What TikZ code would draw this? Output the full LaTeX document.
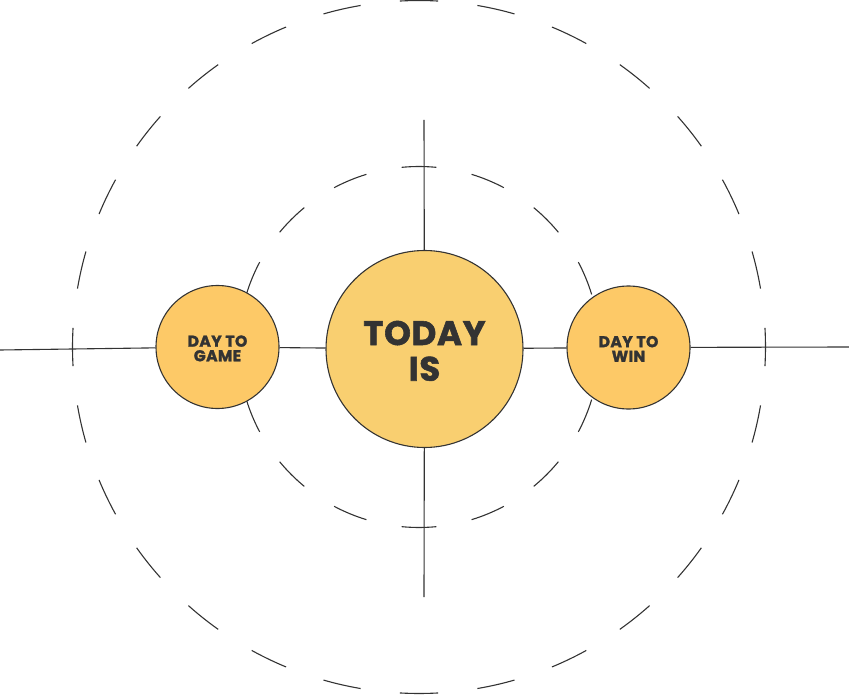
\documentclass[tikz,border=0pt]{standalone}
\usepackage{fontspec}
\newfontfamily\dfont{Poppins}[BoldFeatures={FakeBold=1.6}, LetterSpace=2]
\definecolor{ink}{HTML}{333333}
\definecolor{bigfill}{HTML}{F9CF70}
\definecolor{smallfill}{HTML}{FDC967}
\tikzset{
  dashline/.style={draw=ink, line width=1.1pt},
  conn/.style={draw=ink, line width=1.1pt},
  bigball/.style={circle, draw=ink, line width=1.1pt, fill=bigfill, minimum size=197pt, inner sep=0pt, align=center, text=ink, font=\dfont\bfseries\fontsize{34}{35.7}\selectfont},
  smallball/.style={circle, draw=ink, line width=1.1pt, fill=smallfill, minimum size=123pt, inner sep=0pt, align=center, text=ink, font=\dfont\bfseries\fontsize{15.7}{14.6}\selectfont},
}
\begin{document}
\begin{tikzpicture}[x=1pt, y=-1pt]
\useasboundingbox (0,0) rectangle (849,695);
\coordinate (oc) at (419,347);
% outer dashed circle: 28 dashes
\foreach \i in {0,...,27} {
  \pgfmathsetmacro{\a}{\i*360/28-3.15}
  \draw[dashline] (oc) ++(\a:346.5) arc[start angle=\a, delta angle=6.3, radius=346.5];
}
% inner dashed circle: 16 dashes
\foreach \i in {0,...,15} {
  \pgfmathsetmacro{\a}{\i*360/16-5.55}
  \draw[dashline] (oc) ++(\a:180.5) arc[start angle=\a, delta angle=11.1, radius=180.5];
}
\coordinate (L) at (0,350);
\coordinate (R) at (849,347);
\coordinate (T) at (424,120);
\coordinate (B) at (424,597);
\node[bigball] (today) at (424.5,349) {\rule{0pt}{28pt}TODAY\\IS};
\node[smallball] (game) at (217.5,347) {\rule{0pt}{14pt}DAY TO\\GAME};
\node[smallball] (win) at (628.5,347.5) {\rule{0pt}{14pt}DAY TO\\WIN};
\draw[conn] (L) -- (game);
\draw[conn] (game) -- (today);
\draw[conn] (today) -- (win);
\draw[conn] (win) -- (R);
\draw[conn] (T) -- (today);
\draw[conn] (today) -- (B);
\end{tikzpicture}
\end{document}
